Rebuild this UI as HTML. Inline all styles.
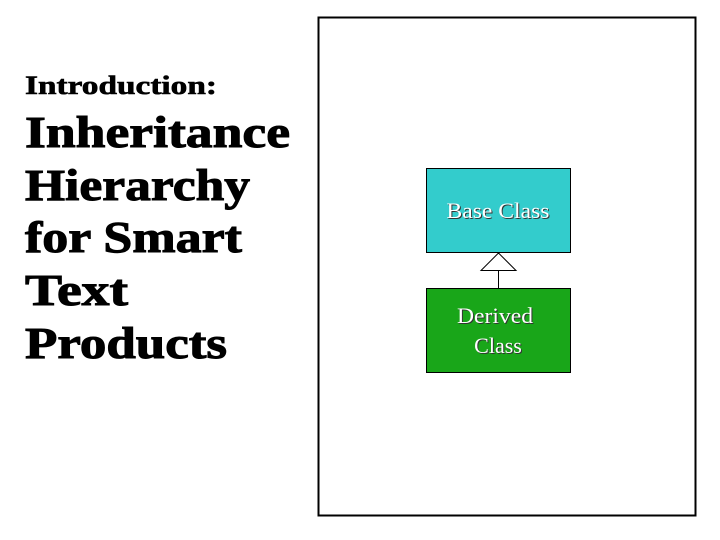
<!DOCTYPE html>
<html><head><meta charset="utf-8"><style>
html,body{margin:0;padding:0;background:#fff;}
svg{display:block;}
</style></head><body>
<svg width="720" height="540" viewBox="0 0 720 540" xmlns="http://www.w3.org/2000/svg">
<rect x="0" y="0" width="720" height="540" fill="#fff"/>
<g font-family="Liberation Serif, serif" font-weight="bold" fill="#000" stroke="#000" stroke-width="1">
<text x="25" y="94" font-size="26" stroke-width="0.6" textLength="192" lengthAdjust="spacingAndGlyphs">Introduction:</text>
<text x="25" y="147" font-size="44" textLength="265" lengthAdjust="spacingAndGlyphs">Inheritance</text>
<text x="25" y="200" font-size="44" textLength="225" lengthAdjust="spacingAndGlyphs">Hierarchy</text>
<text x="25" y="252" font-size="44" textLength="217" lengthAdjust="spacingAndGlyphs">for Smart</text>
<text x="25" y="305" font-size="44" textLength="103" lengthAdjust="spacingAndGlyphs">Text</text>
<text x="25" y="358" font-size="44" textLength="202" lengthAdjust="spacingAndGlyphs">Products</text>
</g>
<rect x="318.5" y="17.5" width="377" height="498" fill="none" stroke="#000" stroke-width="2"/>
<rect x="426.5" y="168.5" width="144" height="84" fill="#33cccc" stroke="#000" stroke-width="1"/>
<rect x="426.5" y="288.5" width="144" height="84" fill="#19a619" stroke="#000" stroke-width="1"/>
<line x1="498.5" y1="270" x2="498.5" y2="288" stroke="#000"/>
<polygon points="498.5,253 481,270.5 516,270.5" fill="#fff" stroke="#000"/>
<g font-family="Liberation Serif, serif" font-size="22" text-anchor="middle">
<g fill="#333" transform="translate(1,1)">
<text x="498" y="218" textLength="103" lengthAdjust="spacingAndGlyphs">Base Class</text>
<text x="495" y="323" textLength="76" lengthAdjust="spacingAndGlyphs">Derived</text>
<text x="498" y="353">Class</text>
</g>
<g fill="#fff">
<text x="498" y="218" textLength="103" lengthAdjust="spacingAndGlyphs">Base Class</text>
<text x="495" y="323" textLength="76" lengthAdjust="spacingAndGlyphs">Derived</text>
<text x="498" y="353">Class</text>
</g>
</g>
</svg>
</body></html>
